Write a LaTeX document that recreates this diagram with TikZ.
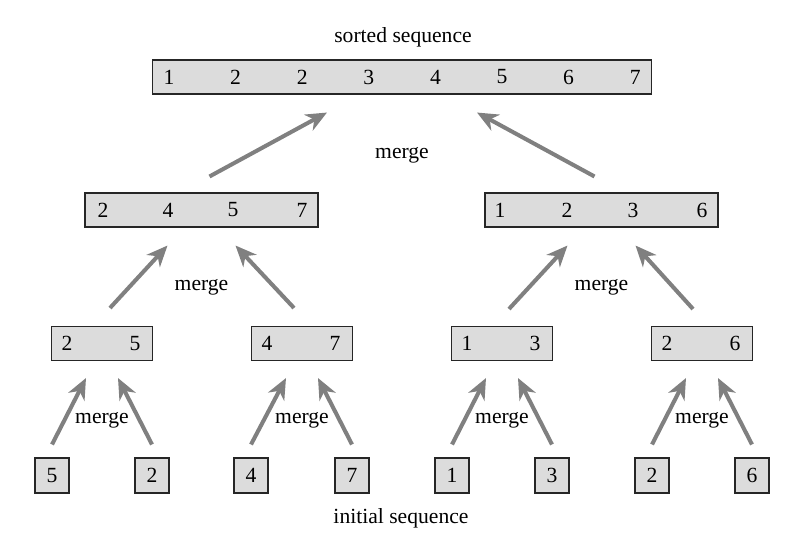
\documentclass[tikz,border=0pt]{standalone}
\usepackage{fontspec}
\setmainfont{Liberation Serif}
\usetikzlibrary{arrows.meta}

\definecolor{boxgray}{HTML}{DCDCDC}
\definecolor{arrowgray}{HTML}{808080}

\tikzset{
  seqbox/.style={draw=black!85, fill=boxgray, line width=0.6pt, inner sep=0pt, minimum height=0.68cm},
  numtext/.style={inner sep=0pt},
  seqtext/.style={inner sep=0pt},
  mergetext/.style={inner sep=0pt},
  mergearrow/.style={draw=arrowgray, line width=2.3pt, -{Stealth[length=4.2mm,width=3.6mm,inset=1.3mm]}}
}

\begin{document}
\begin{tikzpicture}[x=0.02cm,y=-0.02cm,font=\fontsize{12.3}{14}\selectfont]
    \useasboundingbox (0,0) rectangle (802,542);

    % Sorted sequence
    \node[seqtext] (sortedlabel) at (403,37) {sorted sequence};
    \node[seqbox, minimum width=10cm] (top) at (402,77) {};
    \foreach \d [count=\i] in {1,2,2,3,4,5,6,7}
        \node[numtext] (top-\i) at ({169+66.6*(\i-1)},77) {\d};

    % Two halves
    \node[seqbox, minimum width=4.66cm] (half-a) at (201.5,210) {};
    \foreach \d/\x [count=\i] in {2/103,4/168,5/233,7/302}
        \node[numtext] (half-a-\i) at (\x,210) {\d};
    \node[seqbox, minimum width=4.66cm] (half-b) at (601.5,210) {};
    \foreach \d/\x [count=\i] in {1/500,2/567,3/633,6/702}
        \node[numtext] (half-b-\i) at (\x,210) {\d};

    % Pairs
    \foreach \c/\a/\b [count=\i] in {102/2/5,302/4/7,502/1/3,702/2/6} {
        \node[seqbox, minimum width=2.02cm] (pair-\i) at (\c,343.5) {};
        \node[numtext] (pair-\i-a) at ({\c-35},343.5) {\a};
        \node[numtext] (pair-\i-b) at ({\c+33},343.5) {\b};
    }

    % Initial sequence
    \foreach \d/\x [count=\i] in {5/52,2/152,4/251,7/352,1/452,3/552,2/652,6/752}
        \node[seqbox, minimum width=0.68cm, minimum height=0.7cm] (leaf-\i) at (\x,475.5) {\d};
    \node[seqtext] (initlabel) at (401,518) {initial sequence};

    % Merging single elements into pairs
    \foreach \i in {1,...,4} {
        \pgfmathtruncatemacro{\l}{2*\i-1}
        \pgfmathtruncatemacro{\r}{2*\i}
        \draw[mergearrow] ([shift={(0,-13)}]leaf-\l.north) -- ([shift={(-16,17)}]pair-\i.south);
        \draw[mergearrow] ([shift={(0,-13)}]leaf-\r.north) -- ([shift={(16,17)}]pair-\i.south);
        \node[mergetext] (merge-pair-\i) at ([shift={(0,59)}]pair-\i.south) {merge};
    }

    % Merging pairs into halves
    \draw[mergearrow] ([shift={(8,-18)}]pair-1.north) -- ([shift={(-34,18)}]half-a.south);
    \draw[mergearrow] ([shift={(-8,-18)}]pair-2.north) -- ([shift={(34,18)}]half-a.south);
    \node[mergetext] (merge-half-a) at ([shift={(0,60)}]half-a.south) {merge};
    \draw[mergearrow] ([shift={(7,-17)}]pair-3.north) -- ([shift={(-34,18)}]half-b.south);
    \draw[mergearrow] ([shift={(-9,-17)}]pair-4.north) -- ([shift={(34,18)}]half-b.south);
    \node[mergetext] (merge-half-b) at ([shift={(0,60)}]half-b.south) {merge};

    % Merging halves into the sorted sequence
    \draw[mergearrow] ([shift={(8,-16)}]half-a.north) -- ([shift={(-75,18)}]top.south);
    \draw[mergearrow] ([shift={(-7,-16)}]half-b.north) -- ([shift={(75,18)}]top.south);
    \node[mergetext] (merge-top) at ([shift={(0,61)}]top.south) {merge};

\end{tikzpicture}
\end{document}
